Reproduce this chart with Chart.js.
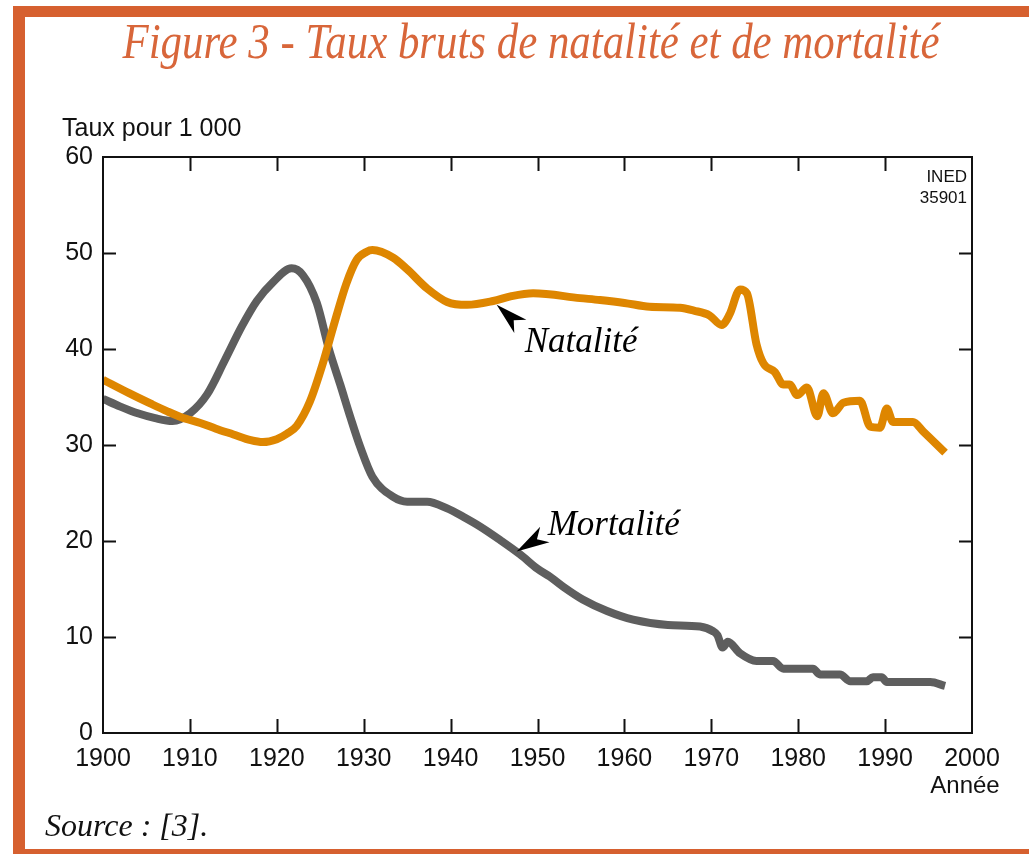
<!DOCTYPE html>
<html>
<head>
<meta charset="utf-8">
<script src="https://cdn.jsdelivr.net/npm/chart.js@4"></script>
<style>
  html, body { margin: 0; padding: 0; background: #fff; }
  canvas { display: block; }
</style>
</head>
<body>
<canvas id="myChart" width="1029" height="854"></canvas>
<script>
// data
const mortYears = [1900, 1902, 1904, 1906, 1908, 1910, 1912, 1914, 1916, 1917.7, 1919.6, 1921.7, 1923, 1924.6, 1926, 1927.3, 1928.5, 1929.6, 1931, 1933.4, 1935, 1937.3, 1939.6, 1941.5, 1943.4, 1945.7, 1948, 1950, 1951.4, 1953, 1955.2, 1958, 1961, 1965, 1968.7, 1970.2, 1970.7, 1971.3, 1971.9, 1973.3, 1975.2, 1977.1, 1978.3, 1981.7, 1982.5, 1984.8, 1986, 1987.9, 1988.6, 1989.6, 1990.2, 1995.2, 1996.9];
const mortRates = [34.8, 34.0, 33.3, 32.8, 32.5, 33.3, 35.3, 38.8, 42.4, 45.0, 47.0, 48.4, 47.7, 44.8, 40.0, 36.3, 32.8, 29.8, 26.7, 24.6, 24.1, 24.1, 23.4, 22.5, 21.5, 20.1, 18.6, 17.1, 16.3, 15.2, 13.9, 12.7, 11.8, 11.25, 11.1, 10.6, 10.2, 8.9, 9.5, 8.3, 7.5, 7.5, 6.7, 6.7, 6.1, 6.1, 5.4, 5.4, 5.8, 5.8, 5.3, 5.3, 4.9];

const natYears = [1900, 1903, 1905.5, 1907.4, 1909, 1911.2, 1913, 1915, 1917, 1918.4, 1920, 1921.2, 1922.3, 1923.8, 1925.3, 1926.5, 1928, 1929.2, 1930.3, 1931, 1933.4, 1935, 1937.3, 1939.6, 1941.9, 1944.9, 1947, 1949.5, 1954.9, 1957.2, 1960, 1962.9, 1966.4, 1968, 1969.8, 1971.2, 1972.1, 1973.3, 1974.1, 1975.2, 1976, 1977.3, 1978.3, 1979, 1979.9, 1981, 1982.2, 1982.9, 1984, 1985.2, 1987.1, 1988.3, 1989.4, 1990.2, 1990.9, 1993.2, 1994.4, 1996.9];
const natRates = [36.8, 35.4, 34.3, 33.5, 32.9, 32.3, 31.7, 31.1, 30.5, 30.3, 30.6, 31.2, 32.0, 34.5, 38.5, 42.3, 46.8, 49.3, 50.1, 50.3, 49.5, 48.3, 46.3, 44.9, 44.6, 45.0, 45.5, 45.8, 45.3, 45.1, 44.8, 44.4, 44.3, 44.0, 43.5, 42.5, 43.6, 46.2, 45.8, 40.5, 38.5, 37.6, 36.3, 36.3, 35.2, 36.0, 33.0, 35.4, 33.3, 34.4, 34.6, 31.9, 31.8, 33.8, 32.4, 32.4, 31.4, 29.2];

const xTicks = [1900, 1910, 1920, 1930, 1940, 1950, 1960, 1970, 1980, 1990, 2000];
const yTicks = [0, 10, 20, 30, 40, 50, 60];

const ORANGE_FRAME = "#D6602F";
const NAT_COLOR = "#DE8600";
const MORT_COLOR = "#5E5E5E";

const toPoints = (xs, ys) => xs.map((x, i) => ({ x: x, y: ys[i] }));

// arrow with notched back, tip at (x, y), pointing from (bx, by)
function arrowHead(ctx, x, y, bx, by, len, half) {
  const dx = bx - x, dy = by - y;
  const d = Math.hypot(dx, dy);
  const ux = dx / d, uy = dy / d;
  const px = -uy, py = ux;
  ctx.beginPath();
  ctx.moveTo(x, y);
  ctx.lineTo(x + ux * len + px * half, y + uy * len + py * half);
  ctx.lineTo(x + ux * len * 0.72, y + uy * len * 0.72);
  ctx.lineTo(x + ux * len - px * half, y + uy * len - py * half);
  ctx.closePath();
  ctx.fill();
}

const decorations = {
  id: "decorations",
  beforeDraw(chart) {
    const ctx = chart.ctx;
    ctx.save();
    ctx.fillStyle = "#fff";
    ctx.fillRect(0, 0, chart.width, chart.height);

    // orange frame
    ctx.fillStyle = ORANGE_FRAME;
    ctx.fillRect(13, 6, 12, 848);
    ctx.fillRect(13, 6, 1016, 11);
    ctx.fillRect(13, 849, 1016, 5);

    // title (condensed italic serif)
    const title = "Figure 3 - Taux bruts de natalité et de mortalité";
    ctx.font = 'italic 50px "Liberation Serif"';
    const w = ctx.measureText(title).width;
    ctx.translate(531, 58);
    ctx.scale(817 / w, 1);
    ctx.fillStyle = "#D8663A";
    ctx.textAlign = "center";
    ctx.textBaseline = "alphabetic";
    ctx.fillText(title, 0, 0);
    ctx.restore();

    ctx.save();
    ctx.fillStyle = "#111";
    ctx.textBaseline = "alphabetic";
    ctx.font = '25px "Liberation Sans"';
    ctx.textAlign = "left";
    ctx.fillText("Taux pour 1 000", 62, 136);

    ctx.font = '17px "Liberation Sans"';
    ctx.textAlign = "right";
    ctx.fillText("INED", 967, 182);
    ctx.fillText("35901", 967, 203);

    ctx.font = '24px "Liberation Sans"';
    ctx.textAlign = "center";
    ctx.fillText("Année", 965, 793);

    ctx.font = 'italic 32px "Liberation Serif"';
    ctx.textAlign = "left";
    ctx.fillText("Source : [3].", 45, 836);
    ctx.restore();
  },
  afterDraw(chart) {
    const ctx = chart.ctx;
    const { left, right, top, bottom } = chart.chartArea;
    const xs = chart.scales.x, ys = chart.scales.y;
    ctx.save();
    ctx.strokeStyle = "#111";
    ctx.lineWidth = 2;
    ctx.strokeRect(left, top, right - left, bottom - top);

    // inward tick marks on all four sides
    ctx.beginPath();
    xTicks.slice(1, -1).forEach(v => {
      const px = Math.round(xs.getPixelForValue(v)) + 0.5;
      ctx.moveTo(px, bottom);
      ctx.lineTo(px, bottom - 14);
      ctx.moveTo(px, top);
      ctx.lineTo(px, top + 14);
    });
    yTicks.slice(1, -1).forEach(v => {
      const py = Math.round(ys.getPixelForValue(v)) + 0.5;
      ctx.moveTo(left, py);
      ctx.lineTo(left + 13, py);
      ctx.moveTo(right, py);
      ctx.lineTo(right - 13, py);
    });
    ctx.stroke();

    // series labels with arrows
    ctx.fillStyle = "#000";
    const nx = xs.getPixelForValue(1945.3), ny = ys.getPixelForValue(44.6);
    arrowHead(ctx, nx, ny, nx + 22, ny + 20, 32, 9);
    const mx = xs.getPixelForValue(1947.6), my = ys.getPixelForValue(18.9);
    arrowHead(ctx, mx, my, mx + 28, my - 17, 33, 9);

    ctx.font = 'italic 35px "Liberation Serif"';
    ctx.textAlign = "left";
    ctx.textBaseline = "alphabetic";
    ctx.fillText("Natalité", nx + 28, ny + 47);
    ctx.fillText("Mortalité", mx + 31, my - 17);
    ctx.restore();
  },
};

const data = {
  datasets: [
    {
      label: "Natalité",
      data: toPoints(natYears, natRates),
      borderColor: NAT_COLOR,
      borderWidth: 8,
      pointRadius: 0,
      cubicInterpolationMode: "monotone",
      borderJoinStyle: "round",
      borderCapStyle: "butt",
    },
    {
      label: "Mortalité",
      data: toPoints(mortYears, mortRates),
      borderColor: MORT_COLOR,
      borderWidth: 8,
      pointRadius: 0,
      cubicInterpolationMode: "monotone",
      borderJoinStyle: "round",
      borderCapStyle: "butt",
    },
  ],
};

const tickFont = { family: "Liberation Sans", size: 25 };

const config = {
  type: "line",
  data,
  options: {
    responsive: false,
    animation: false,
    layout: {
      padding: { left: 0, top: 157, right: 57, bottom: 0 },
    },
    scales: {
      x: {
        type: "linear",
        min: 1900,
        max: 2000,
        afterBuildTicks: (s) => { s.ticks = xTicks.map(v => ({ value: v })); },
        afterFit: (s) => { s.height = 121; },
        ticks: {
          font: tickFont,
          color: "#111",
          padding: 11,
          maxRotation: 0,
          autoSkip: false,
          callback: (v) => String(v),
        },
        grid: { display: false, drawTicks: false },
        border: { display: false },
      },
      y: {
        min: 0,
        max: 60,
        afterBuildTicks: (s) => { s.ticks = yTicks.map(v => ({ value: v })); },
        afterFit: (s) => { s.width = 103; },
        ticks: {
          font: tickFont,
          color: "#111",
          padding: 10,
          callback: (v) => String(v),
        },
        grid: { display: false, drawTicks: false },
        border: { display: false },
      },
    },
    plugins: {
      legend: { display: false },
      tooltip: { enabled: false },
    },
  },
  plugins: [decorations],
};

const myChart = new Chart(document.getElementById("myChart"), config);
</script>
</body>
</html>
